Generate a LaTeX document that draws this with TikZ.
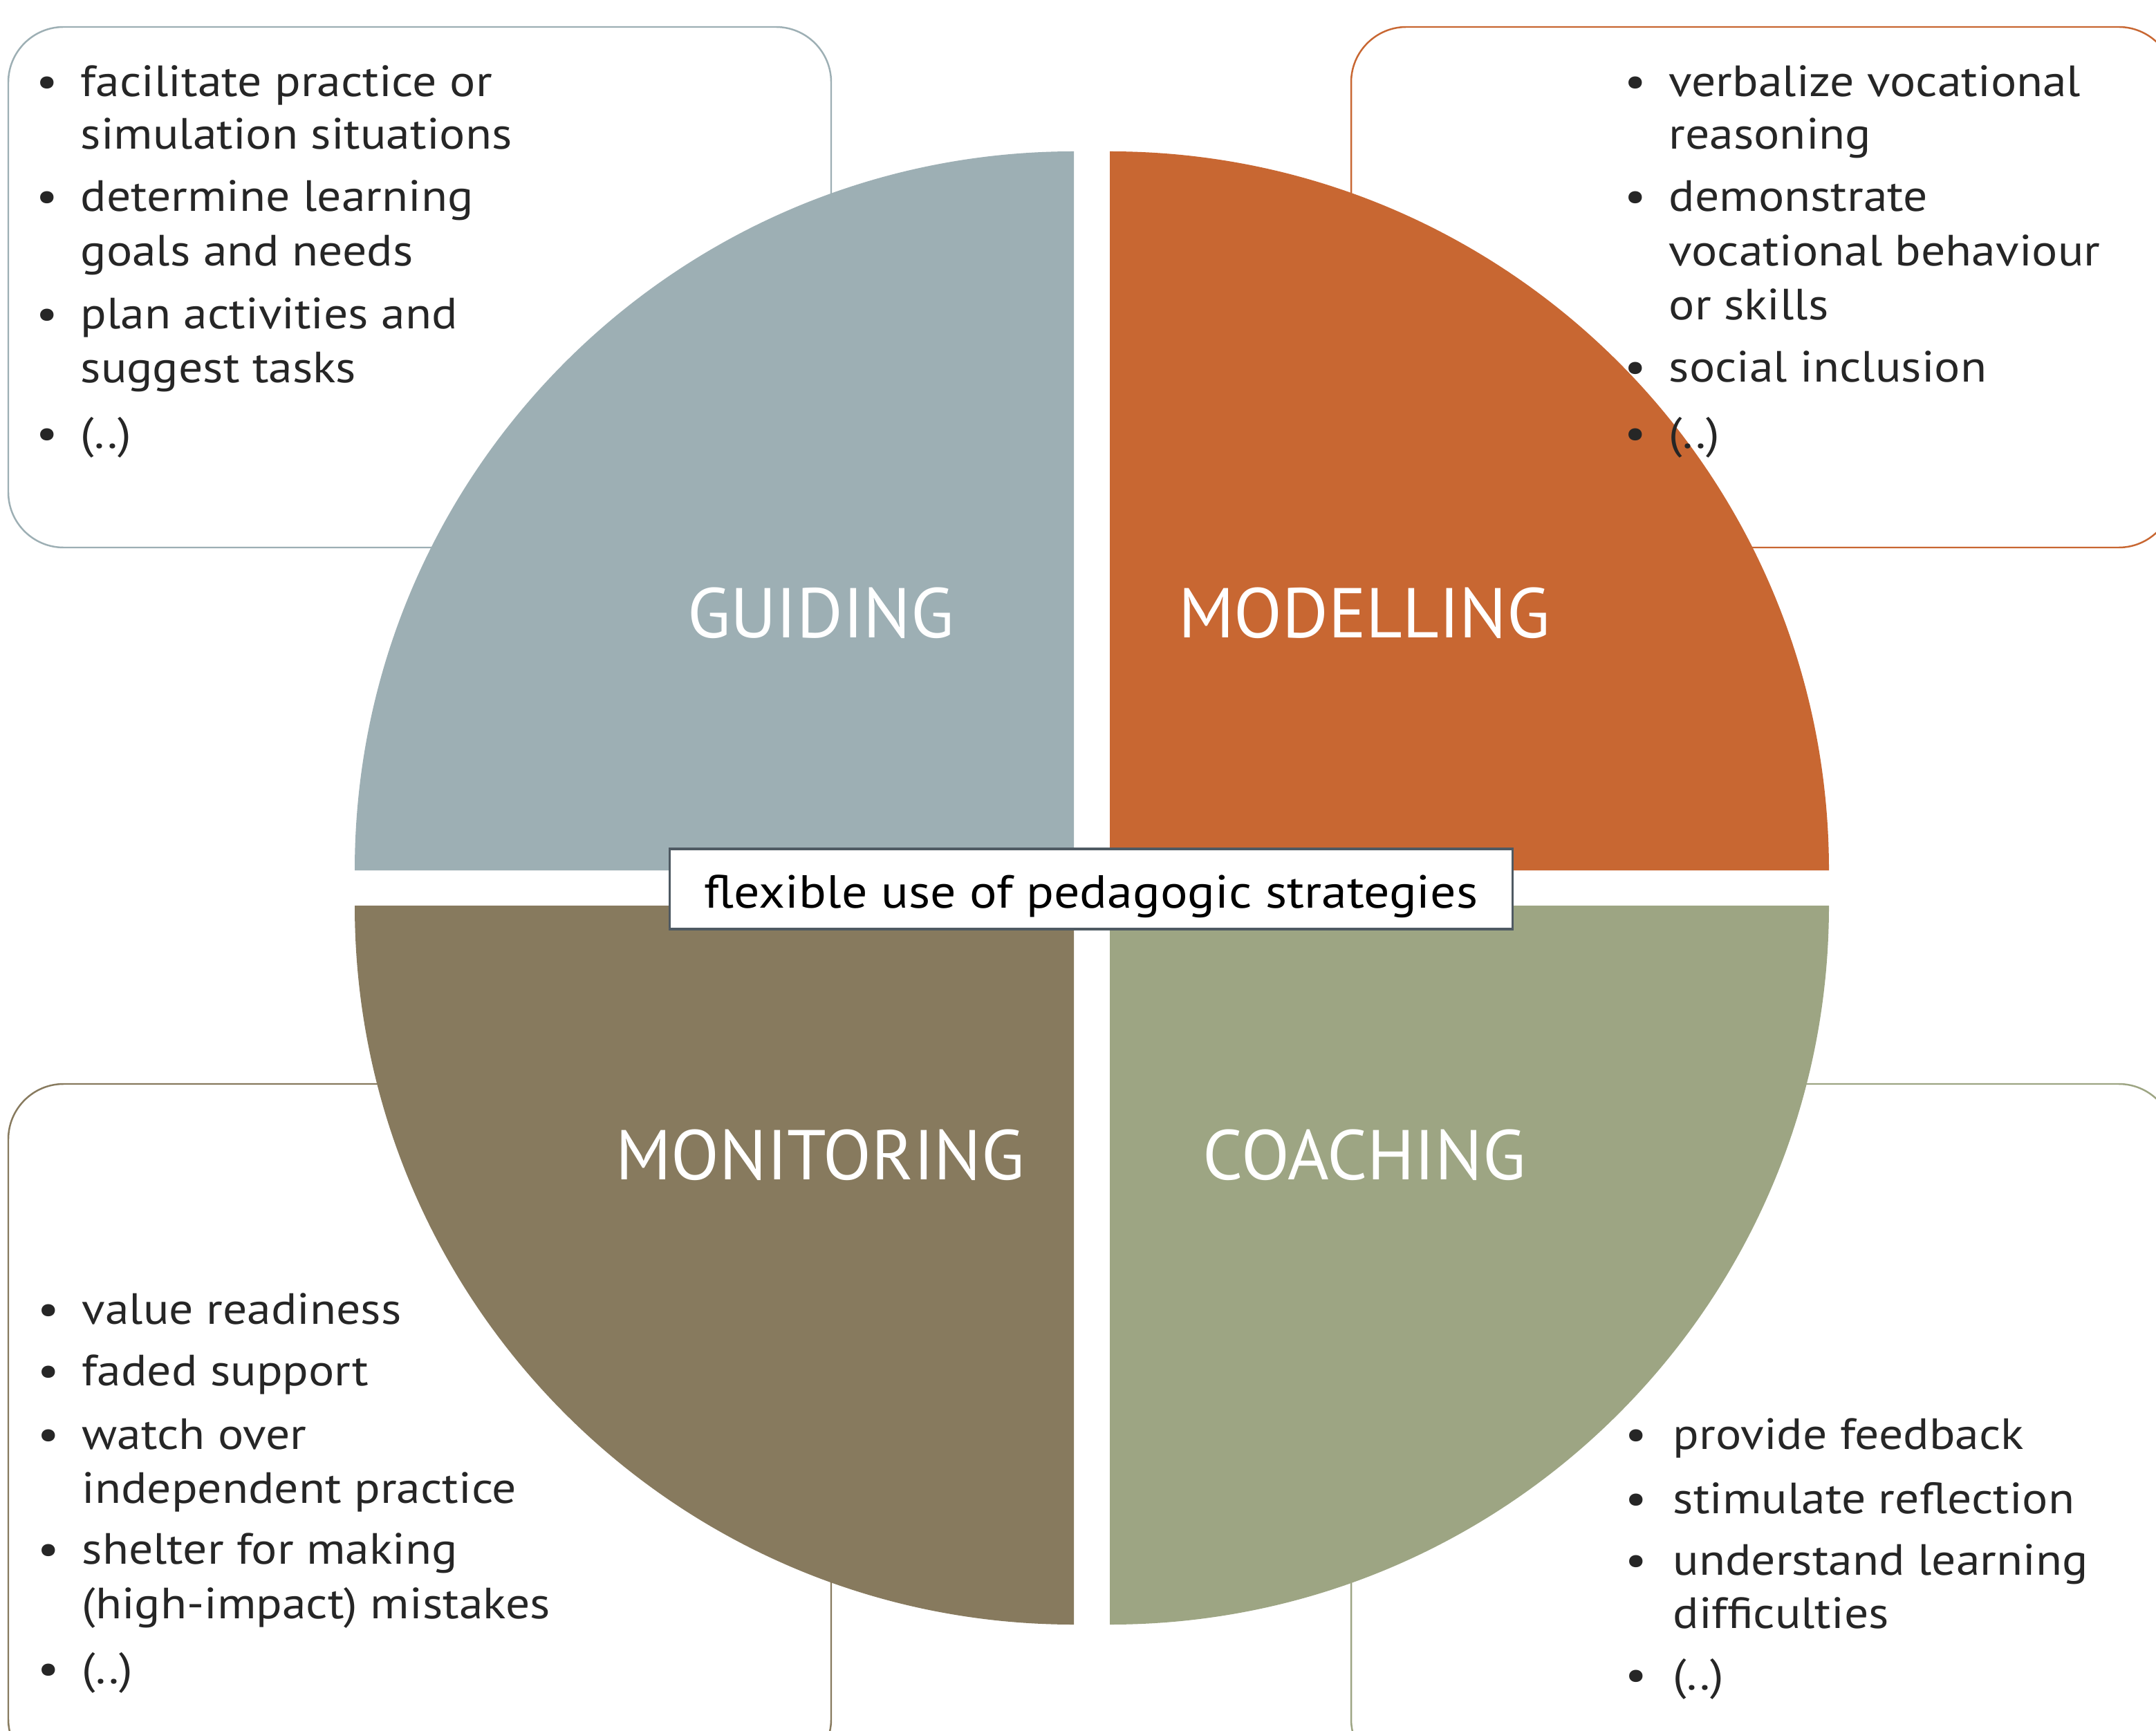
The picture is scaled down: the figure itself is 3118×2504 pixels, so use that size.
\documentclass[tikz,border=0pt]{standalone}
\usepackage{fontspec}
\setmainfont{PT Sans}[FakeStretch=1.1]
\newfontfamily\lblfont{PT Sans}
\definecolor{guid}{HTML}{9DAFB4}
\definecolor{modc}{HTML}{C86732}
\definecolor{monc}{HTML}{877A5E}
\definecolor{coac}{HTML}{9DA583}
\definecolor{txt}{HTML}{262626}
\definecolor{cbord}{HTML}{4F5A63}
\tikzset{
  sidebox/.style={rounded corners=0.8cm, line width=0.7pt, fill=white},
  itemtext/.style={anchor=base west, inner sep=0pt, text=txt,
    font=\fontsize{18}{22}\selectfont},
  bul/.style={anchor=base, inner sep=0pt, text=txt, font=\fontsize{18}{22}\selectfont},
  qlabel/.style={anchor=base, inner sep=0pt, text=white, font=\lblfont\fontsize{29}{31}\selectfont},
  centerbox/.style={draw=cbord, line width=0.9pt, fill=white, minimum width=12.19cm,
    minimum height=1.16cm, inner sep=0pt, text height=0.67cm, text depth=0.13cm,
    font=\fontsize{19.1}{22}\selectfont, text=black}
}
\begin{document}
\begin{tikzpicture}[x=0.01cm,y=0.01cm]
\useasboundingbox (0,0) rectangle (3118,-2504);
\clip (0,0) rectangle (3118,-2504);
\fill[white] (0,0) rectangle (3118,-2504);
% side boxes
\draw[sidebox, draw=guid] (12,-39) rectangle (1202,-792);
\draw[sidebox, draw=modc] (1954,-39) rectangle (3144,-792);
\draw[sidebox, draw=monc] (12,-1568) rectangle (1202,-2567);
\draw[sidebox, draw=coac] (1954,-1568) rectangle (3144,-2567);
% quadrants
\fill[guid] (1553,-1259) -- ++(-1040,0) arc[start angle=180, end angle=90, radius=1040] -- cycle;
\fill[modc] (1605,-1259) -- ++(0,1040) arc[start angle=90, end angle=0, radius=1040] -- cycle;
\fill[monc] (1553,-1310) -- ++(-1040,0) arc[start angle=180, end angle=270, radius=1040] -- cycle;
\fill[coac] (1605,-1310) -- ++(1040,0) arc[start angle=0, end angle=-90, radius=1040] -- cycle;
% labels
\node[qlabel] (guiding) at (1187,-923) {GUIDING};
\node[qlabel] (modelling) at (1973,-923) {MODELLING};
\node[qlabel] (monitoring) at (1186,-1706) {MONITORING};
\node[qlabel] (coaching) at (1973,-1706) {COACHING};
% center
\node[centerbox] (center) at (1578,-1286) {flexible use of pedagogic strategies};
% top-left items
\node[bul] (b11) at (68,-140) {•};
\node[itemtext] (t11a) at (116,-140) {facilitate practice or};
\node[itemtext] (t11b) at (116,-216) {simulation situations};
\node[bul] (b12) at (68,-306) {•};
\node[itemtext] (t12a) at (116,-306) {determine learning};
\node[itemtext] (t12b) at (116,-385) {goals and needs};
\node[bul] (b13) at (68,-476) {•};
\node[itemtext] (t13a) at (116,-476) {plan activities and};
\node[itemtext] (t13b) at (116,-554) {suggest tasks};
\node[bul] (b14) at (68,-649) {•};
\node[itemtext] (t14) at (116,-649) {(..)};
% top-right items
\node[bul] (b21) at (2365,-140) {•};
\node[itemtext] (t21a) at (2413,-140) {verbalize vocational};
\node[itemtext] (t21b) at (2413,-216) {reasoning};
\node[bul] (b22) at (2365,-306) {•};
\node[itemtext] (t22a) at (2413,-306) {demonstrate};
\node[itemtext] (t22b) at (2413,-385) {vocational behaviour};
\node[itemtext] (t22c) at (2413,-463) {or skills};
\node[bul] (b23) at (2365,-553) {•};
\node[itemtext] (t23) at (2413,-553) {social inclusion};
\node[bul] (b24) at (2365,-649) {•};
\node[itemtext] (t24) at (2413,-649) {(..)};
% bottom-left items
\node[bul] (b31) at (70,-1915) {•};
\node[itemtext] (t31) at (118,-1915) {value readiness};
\node[bul] (b32) at (70,-2004) {•};
\node[itemtext] (t32) at (118,-2004) {faded support};
\node[bul] (b33) at (70,-2096) {•};
\node[itemtext] (t33a) at (118,-2096) {watch over};
\node[itemtext] (t33b) at (118,-2174) {independent practice};
\node[bul] (b34) at (70,-2262) {•};
\node[itemtext] (t34a) at (118,-2262) {shelter for making};
\node[itemtext] (t34b) at (118,-2341) {(high-impact) mistakes};
\node[bul] (b35) at (70,-2435) {•};
\node[itemtext] (t35) at (118,-2435) {(..)};
% bottom-right items
\node[bul] (b41) at (2366,-2096) {•};
\node[itemtext] (t41) at (2419,-2096) {provide feedback};
\node[bul] (b42) at (2366,-2189) {•};
\node[itemtext] (t42) at (2419,-2189) {stimulate reflection};
\node[bul] (b43) at (2366,-2278) {•};
\node[itemtext] (t43a) at (2419,-2278) {understand learning};
\node[itemtext] (t43b) at (2419,-2355) {difficulties};
\node[bul] (b44) at (2366,-2444) {•};
\node[itemtext] (t44) at (2419,-2444) {(..)};
\end{tikzpicture}
\end{document}
